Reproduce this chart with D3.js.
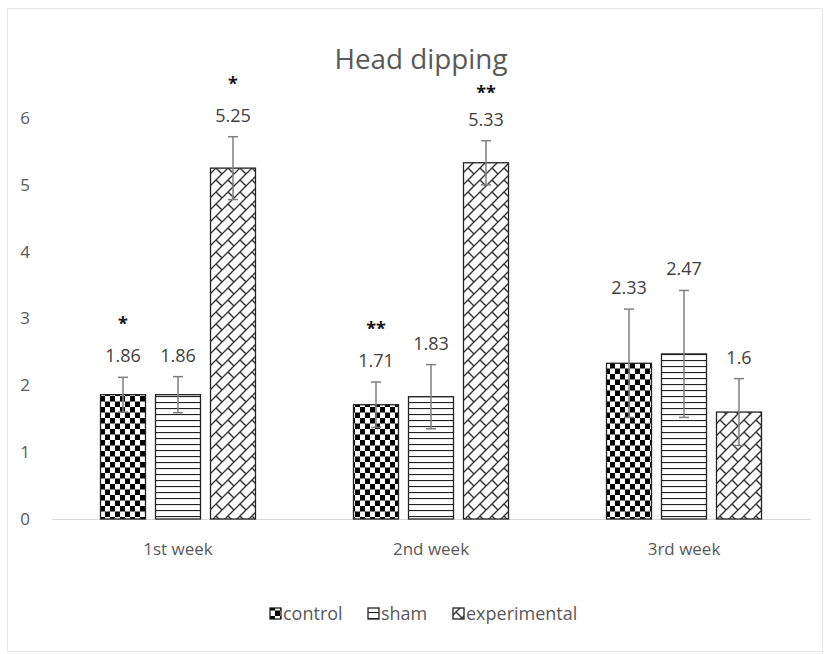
<!DOCTYPE html>
<html><head><meta charset="utf-8">
<script src="https://cdn.jsdelivr.net/npm/d3@7"></script>
<style>body{margin:0;background:#fff}svg{display:block}text{font-family:"Open Sans",sans-serif}</style>
</head><body>
<svg id="c" width="828" height="654"></svg>
<script>
const categories = ["1st week", "2nd week", "3rd week"];
const seriesNames = ["control", "sham", "experimental"];
const control = [1.86, 1.71, 2.33];
const sham = [1.86, 1.83, 2.47];
const experimental = [5.25, 5.33, 1.6];
const controlErr = [0.26, 0.34, 0.81];
const shamErr = [0.27, 0.48, 0.95];
const experimentalErr = [0.47, 0.33, 0.5];
const valueLabels = [["1.86","1.71","2.33"],["1.86","1.83","2.47"],["5.25","5.33","1.6"]];
const stars = [["*","**",""],["","",""],["*","**",""]];
const yTicks = [0,1,2,3,4,5,6];
const title = "Head dipping";

const values = [control, sham, experimental];
const errs = [controlErr, shamErr, experimentalErr];

const svg = d3.select("#c");
const defs = svg.append("defs");
// control: checkerboard
const p1 = defs.append("pattern").attr("id","pat0").attr("patternUnits","userSpaceOnUse").attr("width",10).attr("height",11);
p1.append("rect").attr("width",10).attr("height",11).attr("fill","#fff");
p1.append("rect").attr("width",5).attr("height",5.5).attr("fill","#000");
p1.append("rect").attr("x",5).attr("y",5.5).attr("width",5).attr("height",5.5).attr("fill","#000");
// sham: horizontal lines
const p2 = defs.append("pattern").attr("id","pat1").attr("patternUnits","userSpaceOnUse").attr("width",8).attr("height",6);
p2.append("rect").attr("width",8).attr("height",6).attr("fill","#fff");
p2.append("line").attr("x1",0).attr("x2",8).attr("y1",0.5).attr("y2",0.5).attr("stroke","#222").attr("stroke-width",1.2);
// experimental: diagonal brick
const p3 = defs.append("pattern").attr("id","pat2").attr("patternUnits","userSpaceOnUse").attr("width",12).attr("height",12);
p3.append("rect").attr("width",12).attr("height",12).attr("fill","#fff");
p3.append("path").attr("d","M-1,13 L13,-1 M-1,1 L1,-1 M11,13 L13,11").attr("stroke","#333").attr("stroke-width",1.4);
p3.append("path").attr("d","M0,0 L6,6").attr("stroke","#333").attr("stroke-width",1.4);

// outer border
svg.append("rect").attr("x",7.5).attr("y",8.5).attr("width",815).attr("height",643).attr("fill","none").attr("stroke","#e6e6e6");

const y = d3.scaleLinear().domain([0,6]).range([519,118]);
const x0 = d3.scaleBand().domain(categories).range([51.5,810.5]);
const x1 = d3.scaleBand().domain(seriesNames).range([0,x0.bandwidth()]).paddingInner(0.182).paddingOuter(0.891);

// title
svg.append("text").attr("x",421).attr("y",69).attr("text-anchor","middle").attr("font-size",28)
  .attr("fill","#595959").attr("textLength",173).attr("lengthAdjust","spacingAndGlyphs").text(title);
const titleBox = {x0: 421-90, x1: 421+90};

// y axis labels
const yAxis = d3.axisLeft(y).tickValues(yTicks).tickFormat(d3.format("d")).tickSize(0).tickPadding(0);
const gy = svg.append("g").attr("transform","translate(25,0)").call(yAxis);
gy.select(".domain").remove();
gy.selectAll("text").attr("text-anchor","middle").attr("font-size",17).attr("fill","#595959").attr("font-family","Open Sans, sans-serif");

// x axis
const xAxis = d3.axisBottom(x0).tickSize(0).tickPadding(24);
const gx = svg.append("g").attr("transform","translate(0,519)").call(xAxis);
gx.select(".domain").attr("stroke","#d9d9d9").attr("stroke-width",1.2);
gx.selectAll("text").attr("font-size",17).attr("fill","#595959").attr("font-family","Open Sans, sans-serif");

// bars
seriesNames.forEach((s,si)=>{
  const g = svg.append("g");
  categories.forEach((c,ci)=>{
    const v = values[si][ci], e = errs[si][ci];
    const bx = x0(c)+x1(s), bw = x1.bandwidth();
    g.append("rect").attr("x",bx).attr("y",y(v)).attr("width",bw).attr("height",y(0)-y(v))
      .attr("fill",`url(#pat${si})`).attr("stroke","#222").attr("stroke-width",1.3);
    const cx = bx+bw/2;
    g.append("line").attr("x1",cx).attr("x2",cx).attr("y1",y(v+e)).attr("y2",y(v-e)).attr("stroke","#7f7f7f").attr("stroke-width",1.5);
    g.append("line").attr("x1",cx-5).attr("x2",cx+5).attr("y1",y(v+e)).attr("y2",y(v+e)).attr("stroke","#7f7f7f").attr("stroke-width",1.5);
    g.append("line").attr("x1",cx-5).attr("x2",cx+5).attr("y1",y(v-e)).attr("y2",y(v-e)).attr("stroke","#7f7f7f").attr("stroke-width",1.5);
    const ly = y(v+e)-15;
    g.append("text").attr("x",cx).attr("y",ly).attr("text-anchor","middle").attr("font-size",18).attr("fill","#404040").text(valueLabels[si][ci]);
    if (stars[si][ci]) {
      let sy = ly-32;
      // keep stars clear of the title
      if (cx > titleBox.x0 && cx < titleBox.x1) sy = Math.max(sy, 99);
      g.append("text").attr("x",cx).attr("y",sy).attr("text-anchor","middle").attr("font-size",18).attr("font-weight","bold").attr("fill","#111").text(stars[si][ci]);
    }
  });
});

// legend
const legX = [270, 368, 453];
const lg = svg.append("g");
seriesNames.forEach((s,si)=>{
  lg.append("rect").attr("x",legX[si]).attr("y",608).attr("width",11).attr("height",11)
    .attr("fill",`url(#pat${si})`).attr("stroke","#222").attr("stroke-width",1.3);
  lg.append("text").attr("x",legX[si]+13).attr("y",620).attr("font-size",18).attr("fill","#595959").text(s);
});
</script>
</body></html>
